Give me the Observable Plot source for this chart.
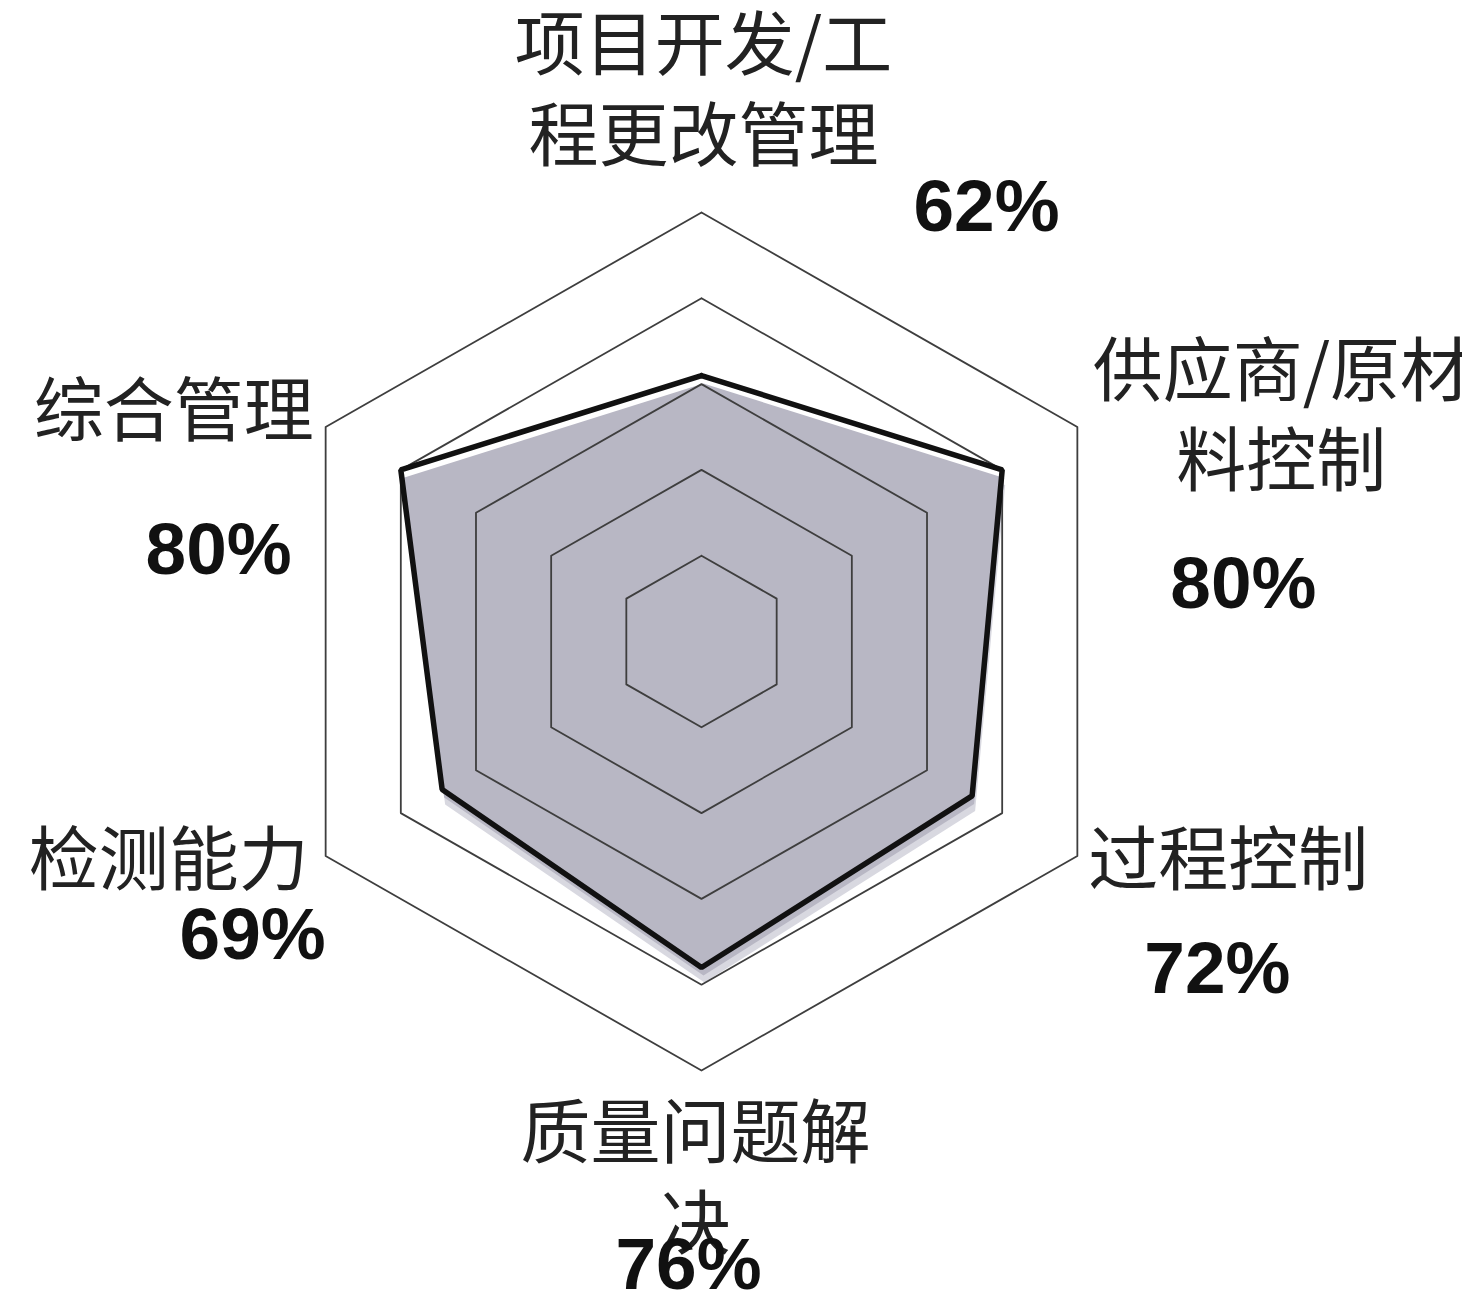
<!DOCTYPE html>
<html>
<head>
<meta charset="utf-8">
<script src="https://cdn.jsdelivr.net/npm/d3@7"></script>
<script src="https://cdn.jsdelivr.net/npm/@observablehq/plot@0.6"></script>
<style>
  html, body { margin: 0; padding: 0; background: #ffffff; }
  #chart svg { display: block; }
</style>
</head>
<body>
<div id="chart"></div>
<script>
// ---- data ----
const categories = ["项目开发/工程更改管理", "供应商/原材料控制", "过程控制", "质量问题解决", "检测能力", "综合管理"];
const labelLines = ["项目开发/工\n程更改管理", "供应商/原材\n料控制", "过程控制", "质量问题解\n决", "检测能力", "综合管理"];
const values = [62, 80, 72, 76, 69, 80];
const pctLabels = ["62%", "80%", "72%", "76%", "69%", "80%"];
const gridLevels = [20, 40, 60, 80, 100];

// ---- layout (pixel offsets of labels from each axis end) ----
const labelOffsets = [[2, -126], [204, -15], [151, 0], [-6, 104], [-157, 0], [-152, -20]];
const pctOffsets = [[285, -5], [166, 158], [140, 114], [-13, 195], [-73, 80], [-107, 124]];

const W = 1462, H = 1305, cx = 701, cy = 641, Rx = 434, Ry = 429;
const n = categories.length;
const angle = i => Math.PI / 2 - i * 2 * Math.PI / n;
const pt = (i, v) => ({x: v / 100 * Math.cos(angle(i)), y: v / 100 * Math.sin(angle(i))});

const ringPts = gridLevels.flatMap(l => d3.range(n + 1).map(i => ({...pt(i % n, l), ring: l})));
const dataPts = d3.range(n + 1).map(i => ({...pt(i % n, values[i % n]), cat: categories[i % n]}));

const labelMarks = categories.flatMap((c, i) => {
  const end = [pt(i, 100)];
  return [
    Plot.text(end, {x: "x", y: "y", text: () => labelLines[i], dx: labelOffsets[i][0], dy: labelOffsets[i][1],
      fontSize: 70, lineHeight: 1.29, fill: "#222", fontFamily: "'Noto Sans CJK SC', sans-serif", textAnchor: "middle"}),
    Plot.text(end, {x: "x", y: "y", text: () => pctLabels[i], dx: pctOffsets[i][0], dy: pctOffsets[i][1],
      fontSize: 73, fontWeight: "bold", fill: "#111", fontFamily: "'Liberation Sans', Arial, sans-serif", textAnchor: "middle"})
  ];
});

const chart = Plot.plot({
  width: W, height: H, margin: 0,
  x: {domain: [-cx / Rx, (W - cx) / Rx], axis: null},
  y: {domain: [-(H - cy) / Ry, cy / Ry], axis: null},
  style: {background: "#ffffff"},
  marks: [
    Plot.line(dataPts, {x: "x", y: "y", fill: "#d8d8e0", stroke: "none", dy: 15, dx: 3}),
    Plot.line(dataPts, {x: "x", y: "y", fill: "#b8b7c4", stroke: "none", dy: 8, dx: 2}),
    Plot.line(ringPts, {x: "x", y: "y", z: "ring", stroke: "#3e3e3e", strokeWidth: 1.8}),
    Plot.line(dataPts, {x: "x", y: "y", stroke: "#111", strokeWidth: 5.5, strokeLinejoin: "miter"}),
    ...labelMarks
  ]
});
document.getElementById("chart").appendChild(chart);
</script>
</body>
</html>
